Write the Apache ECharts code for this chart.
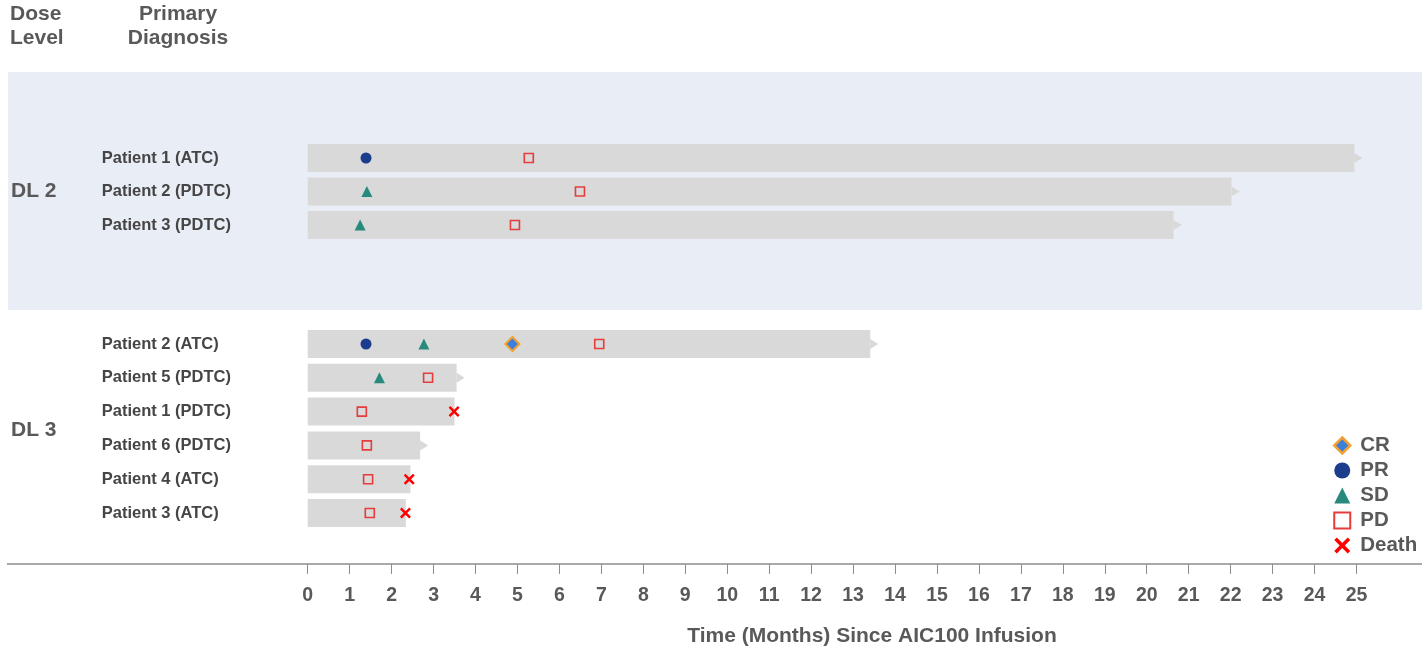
<!DOCTYPE html>
<html>
<head>
<meta charset="utf-8">
<script src="https://cdn.jsdelivr.net/npm/echarts@6/dist/echarts.min.js"></script>
<style>
  html, body { margin: 0; padding: 0; background: #ffffff; }
  #chart { width: 1422px; height: 648px; }
</style>
</head>
<body>
<div id="chart"></div>
<script>
// Swimmer plot: treatment duration per patient with response events

const monthTicks = [0, 25];

// Dose level 2
const dl2Patients = ['Patient 1 (ATC)', 'Patient 2 (PDTC)', 'Patient 3 (PDTC)'];
const dl2Duration = [24.95, 22.02, 20.64];
const dl2Ongoing = [1, 1, 1];
const dl2CR = [];
const dl2PR = [[1.39, 0]];
const dl2SD = [[1.41, 1], [1.25, 2]];
const dl2PD = [[5.27, 0], [6.49, 1], [4.94, 2]];
const dl2Death = [];

// Dose level 3
const dl3Patients = ['Patient 2 (ATC)', 'Patient 5 (PDTC)', 'Patient 1 (PDTC)', 'Patient 6 (PDTC)', 'Patient 4 (ATC)', 'Patient 3 (ATC)'];
const dl3Duration = [13.41, 3.55, 3.50, 2.68, 2.45, 2.34];
const dl3Ongoing = [1, 1, 0, 1, 0, 0];
const dl3CR = [[4.88, 0]];
const dl3PR = [[1.39, 0]];
const dl3SD = [[2.77, 0], [1.71, 1]];
const dl3PD = [[6.95, 0], [2.87, 1], [1.29, 2], [1.41, 3], [1.44, 4], [1.48, 5]];
const dl3Death = [[3.49, 2], [2.42, 4], [2.33, 5]];

const statusNames = ['CR', 'PR', 'SD', 'PD', 'Death'];

const FONT = 'Liberation Sans, Arial, sans-serif';
const GRAY_TEXT = '#595959';
const LABEL_TEXT = '#454545';

const crossPath = 'path://M0,1.6 L1.6,0 L5,3.4 L8.4,0 L10,1.6 L6.6,5 L10,8.4 L8.4,10 L5,6.6 L1.6,10 L0,8.4 L3.4,5 Z';

const statusStyle = {
  CR:    { symbol: 'diamond', symbolSize: 14, itemStyle: { color: '#3d7fd9', borderColor: '#f2a12e', borderWidth: 2, opacity: 1 } },
  PR:    { symbol: 'circle', symbolSize: 11, itemStyle: { color: '#1b3d8b', opacity: 1 } },
  SD:    { symbol: 'triangle', symbolSize: 11, itemStyle: { color: '#278a7c', opacity: 1 } },
  PD:    { symbol: 'rect', symbolSize: 9, itemStyle: { color: 'rgba(255,255,255,0)', borderColor: '#e63c3c', borderWidth: 1.6, opacity: 1 } },
  Death: { symbol: crossPath, symbolSize: 11, itemStyle: { color: '#ff0000', opacity: 1 } }
};

function barSeries(idx, durations, ongoing) {
  return {
    type: 'custom',
    xAxisIndex: idx,
    yAxisIndex: idx,
    silent: true,
    z: 1,
    encode: { x: 0, y: 1 },
    data: durations.map((d, i) => [d, i, ongoing[i]]),
    renderItem: function (params, api) {
      const row = api.value(1);
      const p0 = api.coord([0, row]);
      const p1 = api.coord([api.value(0), row]);
      const h = 28;
      const children = [{
        type: 'rect',
        shape: { x: p0[0], y: p0[1] - h / 2, width: p1[0] - p0[0], height: h },
        style: { fill: '#d9d9d9' }
      }];
      if (api.value(2)) {
        children.push({
          type: 'polygon',
          shape: { points: [[p1[0], p1[1] - 5], [p1[0] + 8, p1[1]], [p1[0], p1[1] + 5]] },
          style: { fill: '#d9d9d9' }
        });
      }
      return { type: 'group', children: children };
    }
  };
}

function eventSeries(idx, name, data) {
  const s = statusStyle[name];
  return {
    type: 'scatter',
    name: name,
    xAxisIndex: idx,
    yAxisIndex: idx,
    z: 3,
    symbol: s.symbol,
    symbolSize: s.symbolSize,
    itemStyle: s.itemStyle,
    data: data
  };
}

const dl2Events = { CR: dl2CR, PR: dl2PR, SD: dl2SD, PD: dl2PD, Death: dl2Death };
const dl3Events = { CR: dl3CR, PR: dl3PR, SD: dl3SD, PD: dl3PD, Death: dl3Death };

const series = [barSeries(0, dl2Duration, dl2Ongoing), barSeries(1, dl3Duration, dl3Ongoing)];
statusNames.forEach(n => {
  series.push(eventSeries(0, n, dl2Events[n]));
  series.push(eventSeries(1, n, dl3Events[n]));
});

const axisLeft = 307.7;
const axisWidth = 1048.8;

function yAxisFor(idx, cats) {
  return {
    type: 'category',
    gridIndex: idx,
    inverse: true,
    data: cats,
    axisLine: { show: false },
    axisTick: { show: false },
    splitLine: { show: false },
    axisLabel: {
      align: 'left',
      margin: 206,
      color: LABEL_TEXT,
      fontFamily: FONT,
      fontWeight: 'bold',
      fontSize: 16.5
    }
  };
}

// legend icons per status
const legendIcon = {
  CR:    { icon: 'diamond', itemStyle: { borderWidth: 2.5 } },
  PR:    { icon: 'circle' },
  SD:    { icon: 'triangle' },
  PD:    { icon: 'rect' },
  Death: { icon: crossPath }
};

const chart = echarts.init(document.getElementById('chart'), null, { renderer: 'canvas' });
chart.setOption({
  animation: false,
  backgroundColor: '#ffffff',
  grid: [
    { left: axisLeft, width: axisWidth, top: 141.25, height: 100.5 },
    { left: axisLeft, width: axisWidth, top: 327.1, height: 202.8 }
  ],
  xAxis: [
    { type: 'value', gridIndex: 0, min: monthTicks[0], max: monthTicks[1], show: false },
    {
      type: 'value', gridIndex: 1, min: monthTicks[0], max: monthTicks[1], interval: 1,
      position: 'bottom', offset: 34,
      axisLine: { show: false },
      axisTick: { show: true, length: 10, lineStyle: { color: '#8c8c8c', width: 1 } },
      splitLine: { show: false },
      axisLabel: { margin: 22, color: GRAY_TEXT, fontFamily: FONT, fontWeight: 'bold', fontSize: 19.5 }
    }
  ],
  yAxis: [yAxisFor(0, dl2Patients), yAxisFor(1, dl3Patients)],
  legend: {
    orient: 'vertical',
    left: 1328,
    top: 430,
    itemWidth: 16,
    itemHeight: 16,
    itemGap: 4,
    selectedMode: false,
    data: statusNames.map(n => Object.assign({ name: n }, legendIcon[n])),
    textStyle: { color: GRAY_TEXT, fontFamily: FONT, fontWeight: 'bold', fontSize: 20.5, padding: [0, 0, 0, 5] }
  },
  graphic: [
    { type: 'rect', z: -10, silent: true, shape: { x: 8, y: 72, width: 1414, height: 238 }, style: { fill: '#e9edf5' } },
    { type: 'line', silent: true, shape: { x1: 7, y1: 564, x2: 1422, y2: 564 }, style: { stroke: '#8c8c8c', lineWidth: 1.5 } },
    { type: 'text', x: 10, y: 2, style: { text: 'Dose\nLevel', fill: GRAY_TEXT, font: 'bold 21px ' + FONT, lineHeight: 24 } },
    { type: 'text', x: 178, y: 2, style: { text: 'Primary\nDiagnosis', fill: GRAY_TEXT, font: 'bold 21px ' + FONT, lineHeight: 24, align: 'center' } },
    { type: 'text', x: 11, y: 191.5, style: { text: 'DL 2', fill: GRAY_TEXT, font: 'bold 21px ' + FONT, verticalAlign: 'middle' } },
    { type: 'text', x: 11, y: 430, style: { text: 'DL 3', fill: GRAY_TEXT, font: 'bold 21px ' + FONT, verticalAlign: 'middle' } },
    { type: 'text', x: 872, y: 636, style: { text: 'Time (Months) Since AIC100 Infusion', fill: GRAY_TEXT, font: 'bold 21px ' + FONT, align: 'center', verticalAlign: 'middle' } }
  ],
  series: series
});
</script>
</body>
</html>
